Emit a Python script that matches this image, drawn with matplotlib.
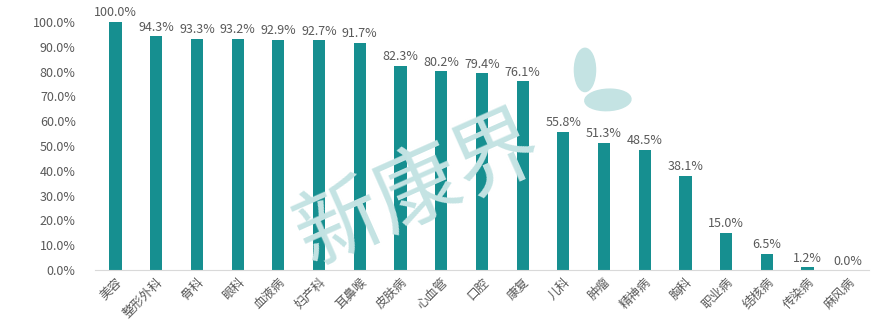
import matplotlib.pyplot as plt
from matplotlib.patches import Ellipse
from matplotlib.ticker import FuncFormatter

plt.rcParams['font.family'] = ['Noto Sans CJK SC', 'DejaVu Sans']

# ---------- data ---------- #
departments = ['美容', '整形外科', '骨科', '眼科', '血液病', '妇产科', '耳鼻喉',
               '皮肤病', '心血管', '口腔', '康复', '儿科', '肿瘤', '精神病',
               '胸科', '职业病', '结核病', '传染病', '麻风病']
rates = [100.0, 94.3, 93.3, 93.2, 92.9, 92.7, 91.7, 82.3, 80.2, 79.4,
         76.1, 55.8, 51.3, 48.5, 38.1, 15.0, 6.5, 1.2, 0.0]

bar_color = '#168f90'
text_color = '#595959'

fig = plt.figure(figsize=(8.81, 3.33), dpi=100)
ax = fig.add_axes([0.108, 0.189, 0.878, 0.745])

# ---------- watermark ---------- #
wm = '#c4e3e3'
fig.text(0.475, 0.43, '新康界', fontsize=62, color=wm, rotation=24,
         ha='center', va='center', fontweight='medium', zorder=0)
fig.patches.append(Ellipse((0.664, 0.79), 0.024, 0.13, angle=0,
                           transform=fig.transFigure, color=wm, zorder=0))
fig.patches.append(Ellipse((0.690, 0.70), 0.052, 0.065, angle=-10,
                           transform=fig.transFigure, color=wm, zorder=0))
ax.set_facecolor('none')

# ---------- bars ---------- #
x = range(len(departments))
bars = ax.bar(x, rates, width=0.3, color=bar_color, zorder=2)
for xi, v in zip(x, rates):
    ax.text(xi, v + 1.0, '{:.1f}%'.format(v), ha='center', va='bottom',
            fontsize=9, color=text_color, zorder=3)

ax.set_xlim(-0.5, 18.5)
ax.set_ylim(0, 100)
ax.set_yticks(range(0, 101, 10))
ax.yaxis.set_major_formatter(FuncFormatter(lambda v, p: '{:.1f}%'.format(v)))
ax.set_xticks(list(x))
ax.set_xticklabels(departments, rotation=45, ha='right',
                   rotation_mode='anchor', fontsize=9, color=text_color)
ax.tick_params(axis='y', length=0, labelsize=9, labelcolor=text_color, pad=14)
ax.tick_params(axis='x', length=0, pad=4)

for s in ['top', 'right', 'left']:
    ax.spines[s].set_visible(False)
ax.spines['bottom'].set_color('#d9d9d9')

fig.savefig('out.png', dpi=100)
